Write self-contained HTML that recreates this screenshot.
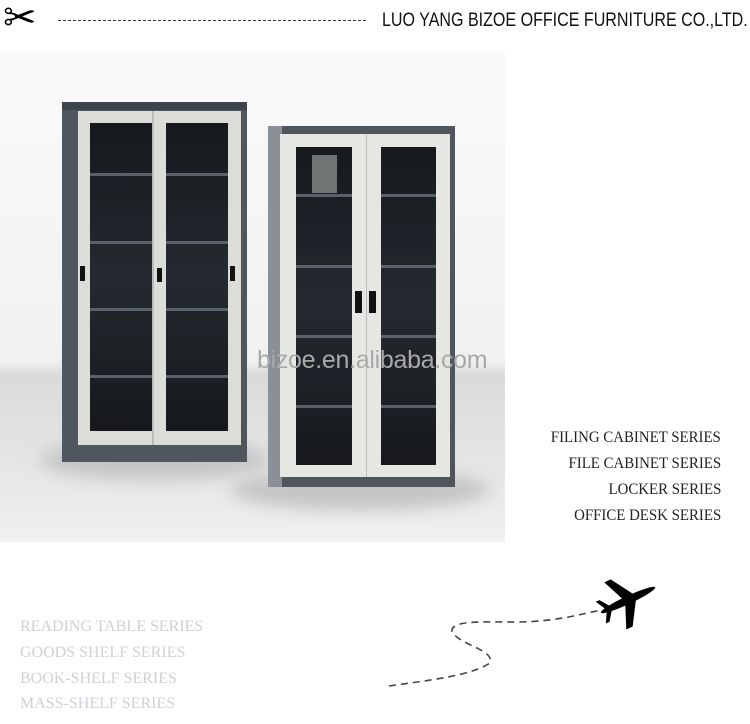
<!DOCTYPE html>
<html><head><meta charset="utf-8"><style>
body{margin:0;width:750px;height:724px;background:#fff;position:relative;overflow:hidden;font-family:"Liberation Sans",sans-serif}
.a{position:absolute}
.glass{position:absolute;background:linear-gradient(180deg,#16191d 0%,#252a30 50%,#16181b 100%)}
.sh{position:absolute;left:0;right:0;height:3px;background:#58616a}
.r{position:absolute;right:29px;font-family:"Liberation Serif",serif;font-size:16px;color:#222;transform:scaleX(0.93);transform-origin:right top;white-space:nowrap}
.l{position:absolute;left:20px;font-family:"Liberation Serif",serif;font-size:16px;color:#d0d0d6;white-space:nowrap}
</style></head><body>
<!-- header -->
<div class="a" style="left:3px;top:-2px;font-size:40px;line-height:40px;color:#000">✂</div>
<div class="a" style="left:58px;top:20px;width:308px;border-top:1px dashed #333"></div>
<div class="a" style="left:382px;top:10px;font-size:19px;color:#111;white-space:nowrap;transform:scaleX(0.845);transform-origin:left top">LUO YANG BIZOE OFFICE FURNITURE CO.,LTD.</div>
<!-- photo bg -->
<div class="a" style="left:0;top:52px;width:505px;height:490px;background:linear-gradient(180deg,#fafafa 0%,#f1f1f1 63%,#dadada 66%,#e6e6e6 85%,#f0f0f0 100%)"></div>
<div class="a" style="left:40px;top:440px;width:230px;height:40px;border-radius:50%;background:#c4c4c4;filter:blur(8px)"></div>
<div class="a" style="left:230px;top:470px;width:260px;height:40px;border-radius:50%;background:#c4c4c4;filter:blur(8px)"></div>
<!-- left cabinet -->
<div class="a" style="left:62px;top:102px;width:185px;height:360px;background:#4f565e"></div>
<div class="a" style="left:62px;top:102px;width:185px;height:8px;background:#3e444b"></div>
<div class="a" style="left:78px;top:111px;width:163px;height:334px;background:#dcdcd8"></div>
<div class="glass" style="left:90px;top:123px;width:62px;height:308px"><div class="sh" style="top:50px"></div><div class="sh" style="top:118px"></div><div class="sh" style="top:185px"></div><div class="sh" style="top:252px"></div></div>
<div class="glass" style="left:166px;top:123px;width:62px;height:308px"><div class="sh" style="top:50px"></div><div class="sh" style="top:118px"></div><div class="sh" style="top:185px"></div><div class="sh" style="top:252px"></div></div>
<div class="a" style="left:152px;top:111px;width:2px;height:334px;background:#bbb"></div>
<div class="a" style="left:80px;top:266px;width:5px;height:15px;background:#111"></div>
<div class="a" style="left:230px;top:266px;width:5px;height:15px;background:#111"></div>
<div class="a" style="left:157px;top:268px;width:5px;height:14px;background:#111"></div>
<!-- right cabinet -->
<div class="a" style="left:268px;top:126px;width:187px;height:361px;background:#4f565e"></div>
<div class="a" style="left:268px;top:126px;width:14px;height:361px;background:#8b9097"></div>
<div class="a" style="left:280px;top:134px;width:170px;height:343px;background:#e6e6e2"></div>
<div class="glass" style="left:296px;top:147px;width:56px;height:318px"><div class="sh" style="top:47px"></div><div class="sh" style="top:118px"></div><div class="sh" style="top:188px"></div><div class="sh" style="top:258px"></div><div class="a" style="left:16px;top:8px;width:25px;height:38px;background:#6f7573"></div></div>
<div class="glass" style="left:381px;top:147px;width:55px;height:318px"><div class="sh" style="top:47px"></div><div class="sh" style="top:118px"></div><div class="sh" style="top:188px"></div><div class="sh" style="top:258px"></div></div>
<div class="a" style="left:366px;top:134px;width:1px;height:343px;background:#bbb"></div>
<div class="a" style="left:355px;top:291px;width:7px;height:22px;background:#111"></div>
<div class="a" style="left:369px;top:291px;width:7px;height:22px;background:#111"></div>
<div class="a" style="left:257px;top:346px;font-size:25px;color:#a9a9a9;letter-spacing:-0.3px">bizoe.en.alibaba.com</div>
<!-- right text -->
<div class="r" style="top:429px">FILING CABINET SERIES</div>
<div class="r" style="top:455px">FILE CABINET SERIES</div>
<div class="r" style="top:481px">LOCKER SERIES</div>
<div class="r" style="top:507px">OFFICE DESK SERIES</div>
<!-- left text -->
<div class="l" style="top:618px">READING TABLE SERIES</div>
<div class="l" style="top:644px">GOODS SHELF SERIES</div>
<div class="l" style="top:670px">BOOK-SHELF SERIES</div>
<div class="l" style="top:695px">MASS-SHELF SERIES</div>
<!-- plane path -->
<svg class="a" style="left:0;top:0" width="750" height="724">
<path d="M389,686 C430,680 470,676 490,663 C495,650 460,645 452,632 C450,620 480,622 520,622 C560,621 580,614 602,610" fill="none" stroke="#444" stroke-width="1.6" stroke-dasharray="7,5"/>
<g transform="translate(628,600) rotate(-25)" fill="#000">
<ellipse cx="0" cy="0" rx="30" ry="4"/>
<path d="M-4,-2 L-14,-26 L-7,-26 L8,-2 Z"/>
<path d="M-4,2 L-14,26 L-7,26 L8,2 Z"/>
<path d="M-24,-1 L-30,-12 L-26,-12 L-18,-1 Z"/>
<path d="M-24,1 L-30,12 L-26,12 L-18,1 Z"/>
</g>
</svg>
</body></html>
